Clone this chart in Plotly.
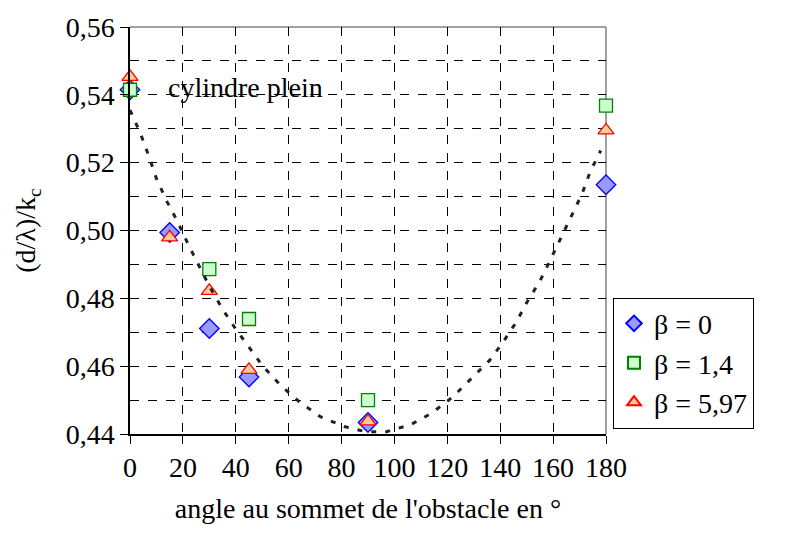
import plotly.graph_objects as go

# angle au sommet (degrés)
angles = [0, 15, 30, 45, 90, 180]
beta_0 = [0.5415, 0.4994, 0.4711, 0.4568, 0.4434, 0.5135]
beta_1_4 = [0.5415, None, 0.4886, 0.4739, 0.4500, 0.5368]
beta_5_97 = [0.5453, 0.4980, 0.4822, 0.4589, 0.4437, 0.5295]

# tendance
trend_x = [0, 4, 7, 10, 14, 18, 22, 30, 35, 40, 45, 50, 57, 64, 72, 81, 89, 97,
           106, 114, 122, 129, 136, 141, 146, 150, 155, 159, 163, 167, 171, 174, 178]
trend_y = [0.5355, 0.5285, 0.5222, 0.5153, 0.5085, 0.5026, 0.4959, 0.4836, 0.4768,
           0.4709, 0.4656, 0.4602, 0.4543, 0.4495, 0.4451, 0.4422, 0.4407, 0.4407,
           0.4427, 0.4461, 0.4509, 0.4563, 0.4617, 0.4670, 0.4729, 0.4787, 0.4851,
           0.4914, 0.4978, 0.5046, 0.5109, 0.5173, 0.5236]

FONT = "Liberation Serif, Times New Roman, serif"
FS = 28


def tf(size=FS):
    return dict(family=FONT, size=size, color="black")


fig = go.Figure()
fig.add_trace(go.Scatter(
    x=angles, y=beta_0, mode="markers", name="β = 0", cliponaxis=False,
    marker=dict(symbol="diamond", size=15, color="#9999FF",
                line=dict(color="#0000FF", width=1.3))))
fig.add_trace(go.Scatter(
    x=angles, y=beta_1_4, mode="markers", name="β = 1,4", cliponaxis=False,
    marker=dict(symbol="square", size=13, color="#CCFFCC",
                line=dict(color="#008000", width=1.3))))
fig.add_trace(go.Scatter(
    x=angles, y=beta_5_97, mode="markers", name="β = 5,97", cliponaxis=False,
    marker=dict(symbol="triangle-up", size=14, color="#FFCC99",
                line=dict(color="#FF0000", width=1.3))))
fig.add_trace(go.Scatter(
    x=trend_x, y=trend_y, mode="lines", showlegend=False,
    line=dict(color="#222222", width=3, dash="5px,9px")))

fig.update_layout(
    width=803, height=541,
    margin=dict(l=130, r=197, t=24, b=107),
    paper_bgcolor="white", plot_bgcolor="white",
    separators=", ",
    font=tf(),
    legend=dict(x=1.0147, y=0.335, xanchor="left", yanchor="top",
                bordercolor="black", borderwidth=1, bgcolor="white",
                font=tf(), tracegroupgap=0, itemsizing="constant"),
    xaxis=dict(range=[0, 180], dtick=20, tick0=0, showgrid=True,
               gridcolor="black", gridwidth=1, griddash="dash",
               showline=True, linecolor="black", linewidth=1.5,
               ticks="outside", ticklen=8, tickcolor="black",
               tickfont=tf(), zeroline=False,
               title=dict(text="angle au sommet de l'obstacle en °",
                          font=tf(), standoff=16)),
    yaxis=dict(range=[0.44, 0.56], dtick=0.02, tick0=0.44, tickformat=".2f",
               showgrid=True, gridcolor="black", gridwidth=1, griddash="dash",
               minor=dict(dtick=0.01, showgrid=True, gridcolor="black",
                          gridwidth=1, griddash="dash", ticks=""),
               showline=True, linecolor="black", linewidth=1.5,
               ticks="outside", ticklen=8, tickcolor="black",
               tickfont=tf(), zeroline=False,
               title=dict(text="(d/λ)/k<sub>c</sub>", font=tf(), standoff=22)),
    shapes=[
        dict(type="line", xref="paper", yref="paper", x0=0, x1=1, y0=1, y1=1,
             line=dict(color="#808080", width=1.5), layer="between"),
        dict(type="line", xref="paper", yref="paper", x0=1, x1=1, y0=0, y1=1,
             line=dict(color="#808080", width=1.5), layer="between"),
    ],
    annotations=[
        dict(x=13.6, y=0.5421, xref="x", yref="y", text="cylindre plein",
             showarrow=False, xanchor="left", yanchor="middle", font=tf()),
        dict(x=188.2, y=0.5304, xref="x", yref="y", text="pastille",
             showarrow=False, xanchor="left", yanchor="middle", font=tf()),
    ],
)

fig.write_html("out.html")
